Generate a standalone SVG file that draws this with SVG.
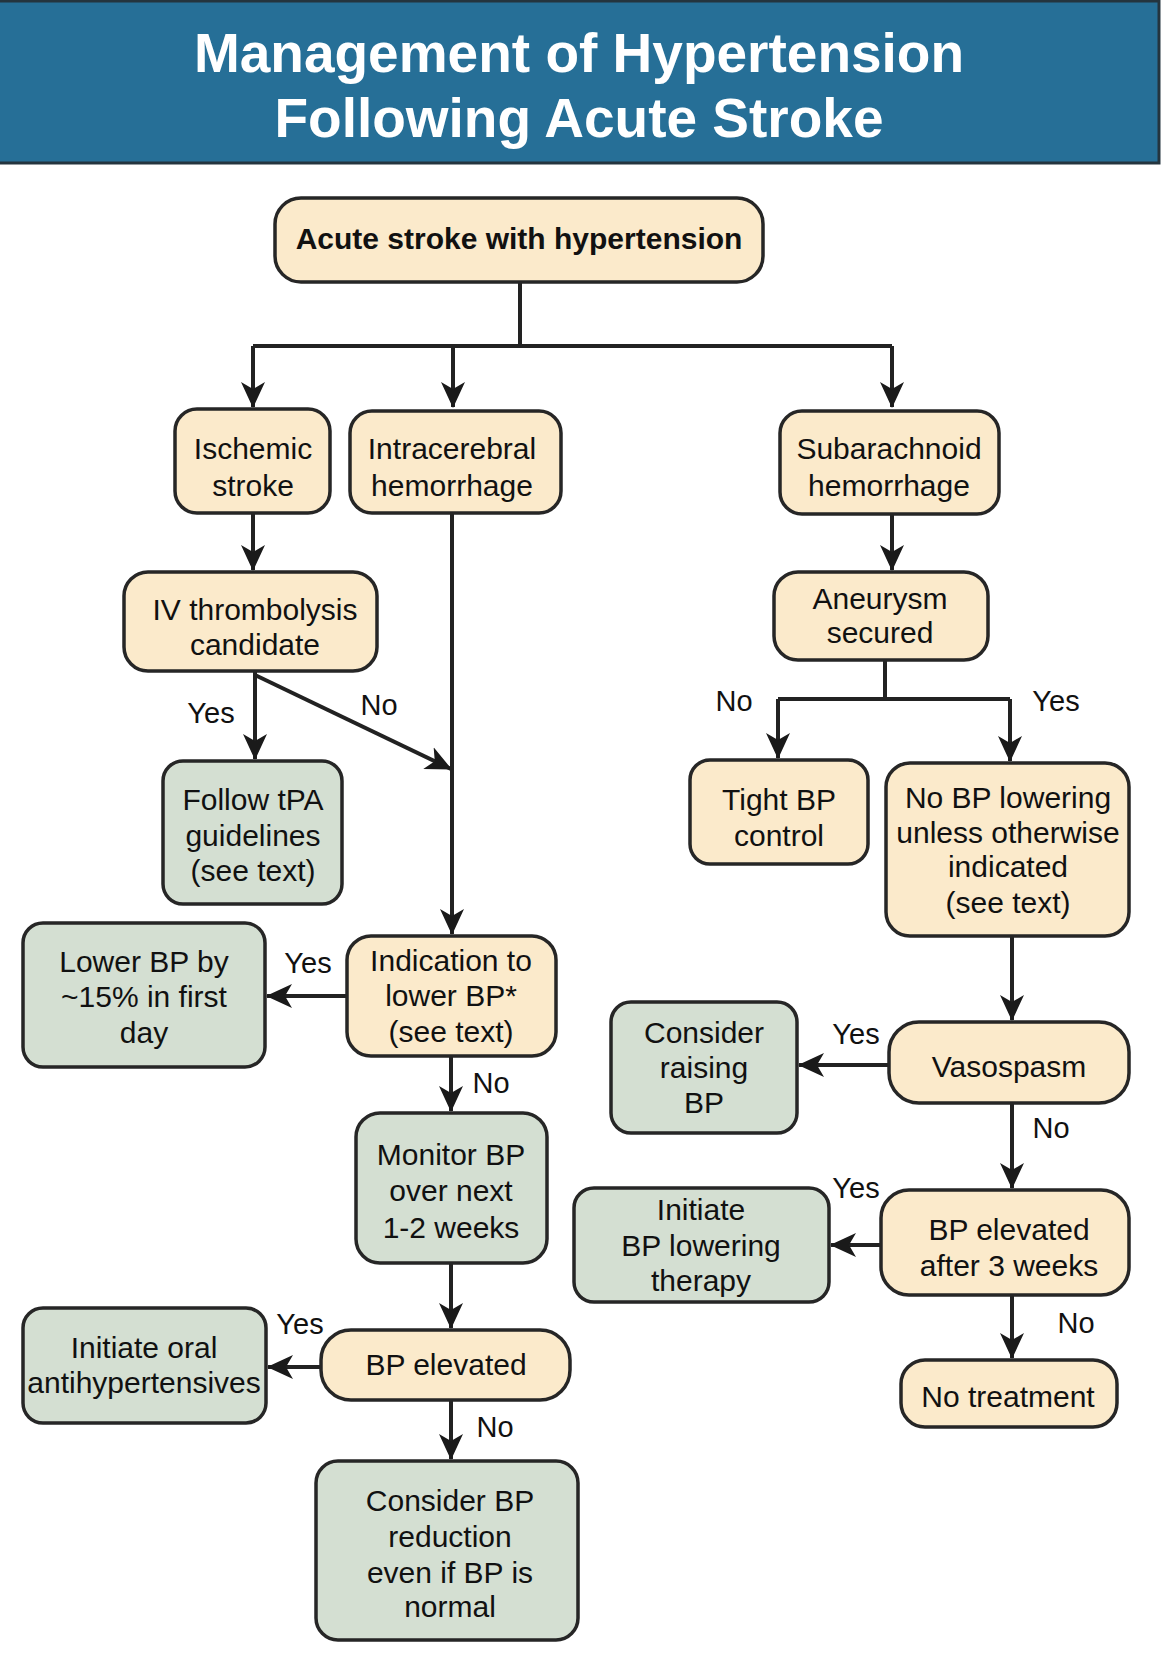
<svg xmlns="http://www.w3.org/2000/svg" width="1170" height="1653" viewBox="0 0 1170 1653">
<style>
.t{font-family:"Liberation Sans",Arial,Helvetica,sans-serif;font-size:30px;text-anchor:middle;fill:#111}
.lb{font-family:"Liberation Sans",Arial,Helvetica,sans-serif;font-size:29px;text-anchor:middle;fill:#111}
.ttl{font-family:"Liberation Sans",Arial,Helvetica,sans-serif;font-size:55px;font-weight:bold;text-anchor:middle;fill:#ffffff}
.p{fill:#fbeacb;stroke:#262626;stroke-width:3.5}
.g{fill:#d4dfd2;stroke:#262626;stroke-width:3.5}
.c{fill:none;stroke:#222;stroke-width:4}
.a{marker-end:url(#ah)}
</style>
<defs>
<marker id="ah" markerUnits="userSpaceOnUse" markerWidth="30" markerHeight="30" refX="25" refY="13" orient="auto">
<path d="M0,1 L26,13 L0,25 L7,13 Z" fill="#1a1a1a"/>
</marker>
</defs>
<rect x="0" y="0" width="1170" height="1653" fill="#ffffff"/>
<g id="header">
<rect x="-2" y="1" width="1161" height="162" fill="#266f97" stroke="#24343e" stroke-width="3"/>
<text class="ttl" x="579" y="72">Management of Hypertension</text>
<text class="ttl" x="579" y="137">Following Acute Stroke</text>
</g>
<g id="connectors">
<path class="c" d="M520,282 V346 M253,346 H892"/>
<path class="c a" d="M253,346 V407"/>
<path class="c a" d="M453,346 V407"/>
<path class="c a" d="M892,346 V407"/>
<path class="c a" d="M253,513 V570"/>
<path class="c a" d="M255,671 V759"/>
<path class="c a" d="M255,675 L451,769"/>
<path class="c a" d="M452,513 V934"/>
<path class="c a" d="M347,996 H267"/>
<path class="c a" d="M451,1056 V1111"/>
<path class="c a" d="M451,1263 V1328"/>
<path class="c a" d="M321,1367 H268"/>
<path class="c a" d="M451,1400 V1459"/>
<path class="c a" d="M892,514 V570"/>
<path class="c" d="M885,660 V699 M778,699 H1010"/>
<path class="c a" d="M778,699 V758"/>
<path class="c a" d="M1010,699 V761"/>
<path class="c a" d="M1012,936 V1020"/>
<path class="c a" d="M889,1065 H799"/>
<path class="c a" d="M1012,1103 V1188"/>
<path class="c a" d="M881,1245 H831"/>
<path class="c a" d="M1012,1295 V1358"/>
<text class="lb" x="211" y="723">Yes</text>
<text class="lb" x="379" y="715">No</text>
<text class="lb" x="308" y="973">Yes</text>
<text class="lb" x="491" y="1093">No</text>
<text class="lb" x="300" y="1334">Yes</text>
<text class="lb" x="495" y="1437">No</text>
<text class="lb" x="734" y="711">No</text>
<text class="lb" x="1056" y="711">Yes</text>
<text class="lb" x="856" y="1044">Yes</text>
<text class="lb" x="1051" y="1138">No</text>
<text class="lb" x="856" y="1198">Yes</text>
<text class="lb" x="1076" y="1333">No</text>
</g>
<g id="root">
<rect class="p" x="275" y="198" width="488" height="84" rx="26"/>
<text class="t" x="519" y="249" font-weight="bold">Acute stroke with hypertension</text>
</g>
<g id="ischemic">
<rect class="p" x="175" y="409" width="155" height="104" rx="22"/>
<text class="t" x="253" y="459">Ischemic</text>
<text class="t" x="253" y="496">stroke</text>
</g>
<g id="intracerebral">
<rect class="p" x="350" y="411" width="211" height="102" rx="22"/>
<text class="t" x="452" y="459">Intracerebral</text>
<text class="t" x="452" y="496">hemorrhage</text>
</g>
<g id="subarachnoid">
<rect class="p" x="780" y="411" width="219" height="103" rx="22"/>
<text class="t" x="889" y="459">Subarachnoid</text>
<text class="t" x="889" y="496">hemorrhage</text>
</g>
<g id="iv">
<rect class="p" x="124" y="572" width="253" height="99" rx="24"/>
<text class="t" x="255" y="620">IV thrombolysis</text>
<text class="t" x="255" y="655">candidate</text>
</g>
<g id="tpa">
<rect class="g" x="163" y="761" width="179" height="143" rx="20"/>
<text class="t" x="253" y="810">Follow tPA</text>
<text class="t" x="253" y="846">guidelines</text>
<text class="t" x="253" y="881">(see text)</text>
</g>
<g id="indication">
<rect class="p" x="347" y="936" width="209" height="120" rx="24"/>
<text class="t" x="451" y="971">Indication to</text>
<text class="t" x="451" y="1006">lower BP*</text>
<text class="t" x="451" y="1042">(see text)</text>
</g>
<g id="lower15">
<rect class="g" x="23" y="923" width="242" height="144" rx="20"/>
<text class="t" x="144" y="972">Lower BP by</text>
<text class="t" x="144" y="1007">~15% in first</text>
<text class="t" x="144" y="1043">day</text>
</g>
<g id="monitor">
<rect class="g" x="356" y="1113" width="191" height="150" rx="24"/>
<text class="t" x="451" y="1165">Monitor BP</text>
<text class="t" x="451" y="1201">over next</text>
<text class="t" x="451" y="1238">1-2 weeks</text>
</g>
<g id="bpelevated">
<rect class="p" x="321" y="1330" width="249" height="70" rx="30"/>
<text class="t" x="446" y="1375">BP elevated</text>
</g>
<g id="oral">
<rect class="g" x="23" y="1308" width="243" height="115" rx="20"/>
<text class="t" x="144" y="1358">Initiate oral</text>
<text class="t" x="144" y="1393">antihypertensives</text>
</g>
<g id="reduction">
<rect class="g" x="316" y="1461" width="262" height="179" rx="22"/>
<text class="t" x="450" y="1511">Consider BP</text>
<text class="t" x="450" y="1547">reduction</text>
<text class="t" x="450" y="1583">even if BP is</text>
<text class="t" x="450" y="1617">normal</text>
</g>
<g id="aneurysm">
<rect class="p" x="774" y="572" width="214" height="88" rx="24"/>
<text class="t" x="880" y="609">Aneurysm</text>
<text class="t" x="880" y="643">secured</text>
</g>
<g id="tight">
<rect class="p" x="690" y="760" width="178" height="104" rx="20"/>
<text class="t" x="779" y="810">Tight BP</text>
<text class="t" x="779" y="846">control</text>
</g>
<g id="nolowering">
<rect class="p" x="886" y="763" width="243" height="173" rx="24"/>
<text class="t" x="1008" y="808">No BP lowering</text>
<text class="t" x="1008" y="843">unless otherwise</text>
<text class="t" x="1008" y="877">indicated</text>
<text class="t" x="1008" y="913">(see text)</text>
</g>
<g id="vasospasm">
<rect class="p" x="889" y="1022" width="240" height="81" rx="30"/>
<text class="t" x="1009" y="1077">Vasospasm</text>
</g>
<g id="raising">
<rect class="g" x="611" y="1002" width="186" height="131" rx="20"/>
<text class="t" x="704" y="1043">Consider</text>
<text class="t" x="704" y="1078">raising</text>
<text class="t" x="704" y="1113">BP</text>
</g>
<g id="elevated3">
<rect class="p" x="881" y="1190" width="248" height="105" rx="28"/>
<text class="t" x="1009" y="1240">BP elevated</text>
<text class="t" x="1009" y="1276">after 3 weeks</text>
</g>
<g id="lowering">
<rect class="g" x="574" y="1188" width="255" height="114" rx="20"/>
<text class="t" x="701" y="1220">Initiate</text>
<text class="t" x="701" y="1256">BP lowering</text>
<text class="t" x="701" y="1291">therapy</text>
</g>
<g id="notreatment">
<rect class="p" x="901" y="1360" width="216" height="67" rx="24"/>
<text class="t" x="1008" y="1407">No treatment</text>
</g>
</svg>
